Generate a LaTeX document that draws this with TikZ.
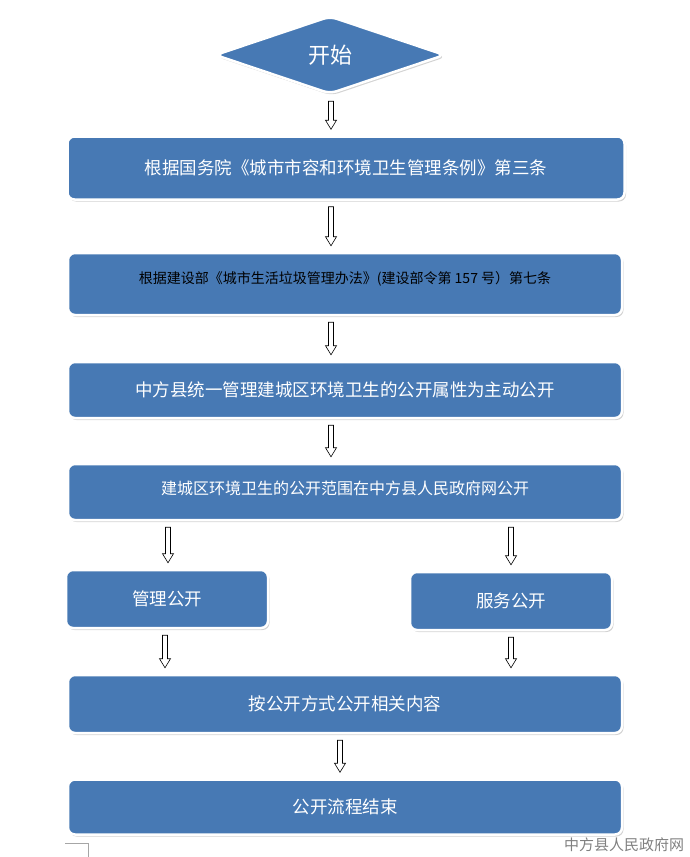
\documentclass[tikz,border=0pt]{standalone}
\usepackage{fontspec}
\newfontfamily\cjk{Noto Sans CJK SC}
\usetikzlibrary{positioning,shapes.geometric,shadows,calc}
\definecolor{boxblue}{HTML}{4779B4}
\tikzset{
  box/.style = {fill=boxblue, draw=white, line width=2.5pt, rounded corners=7pt,
    drop shadow={opacity=.35, shadow xshift=1.5pt, shadow yshift=-2pt},
    text=white, font=\cjk\fontsize{17.5}{20}\selectfont},
  hollow/.style = {draw=black, fill=white, line width=.6pt}
}
% hollow block arrow from the bottom of one node to the top of another
\newcommand\flowarrow[3]{%
  \path let \p1=(#1.south), \p2=(#2.north) in
    [hollow] (#3-2.5,\y1-6) -- (#3+2.5,\y1-6) -- (#3+2.5,\y2+15) -- (#3+5.5,\y2+15)
    -- (#3,\y2+6) -- (#3-5.5,\y2+15) -- (#3-2.5,\y2+15) -- cycle;}
\begin{document}
\begin{tikzpicture}[x=1pt, y=-1pt]
\useasboundingbox (0,0) rectangle (689,857);
\node[box, diamond, aspect=2.9, minimum width=230pt, minimum height=78pt, inner sep=0pt,
  font=\cjk\fontsize{22}{24}\selectfont] (start) at (330,55) {开始};
\node[box, minimum width=557pt, minimum height=63pt] (rule) at (346,168)
  {根据国务院《城市市容和环境卫生管理条例》第三条};
\node[box, minimum width=554pt, minimum height=62pt,
  label={[anchor=center, text=black, font=\cjk\fontsize{14}{16}\selectfont]center:\raisebox{12pt}{根据建设部《城市生活垃圾管理办法》(建设部令第 157 号）第七条}}] (law) at (345,284) {};
\node[box, minimum width=554pt, minimum height=56pt] (attr) at (345,390)
  {中方县统一管理建城区环境卫生的公开属性为主动公开};
\node[box, minimum width=554pt, minimum height=56pt,
  label={[anchor=center, text=white, font=\cjk\fontsize{16}{18}\selectfont]center:\raisebox{9pt}{建城区环境卫生的公开范围在中方县人民政府网公开}}] (scope) at (345,492) {};
\node[box, minimum width=202pt, minimum height=58pt] (manage) at (167,599) {管理公开};
\node[box, minimum width=202pt, minimum height=58pt] (serve) at (511,601) {服务公开};
\node[box, minimum width=554pt, minimum height=58pt] (content) at (345,704)
  {按公开方式公开相关内容};
\node[box, minimum width=554pt, minimum height=55pt] (finish) at (345,807) {公开流程结束};
\flowarrow{start}{rule}{331}
\flowarrow{rule}{law}{331}
\flowarrow{law}{attr}{331}
\flowarrow{attr}{scope}{331}
\flowarrow{scope}{manage}{168}
\flowarrow{scope}{serve}{511}
\flowarrow{manage}{content}{165}
\flowarrow{serve}{content}{511}
\flowarrow{content}{finish}{340}
\draw[gray!70, line width=.6pt] (65,843) -- (88,843) -- (88,857);
\node[text=gray, font=\cjk\fontsize{15}{17}\selectfont] (mark) at (624,845) {中方县人民政府网};
\end{tikzpicture}
\end{document}
